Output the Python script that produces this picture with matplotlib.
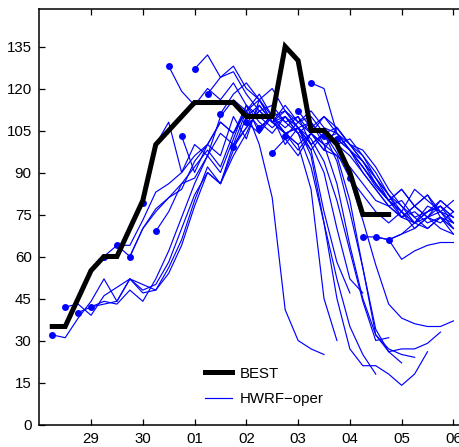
import pandas as pd
import matplotlib
matplotlib.use("Agg")
import matplotlib.pyplot as plt
import matplotlib.dates as mdates
from matplotlib import font_manager
from matplotlib.lines import Line2D

# ---- data (knots, 6-hourly) ----
first_time = "2015-09-28 06:00"
window = ("2015-09-28 00:00", "2015-10-06 06:00")
last_time = "2015-10-06 00:00"

best_kt = [35, 35, 45, 55, 60, 60, 70, 80, 100, 105, 110, 115, 115, 115,
           115, 110, 110, 110, 135, 130, 105, 105, 100, 90, 75, 75, 75]

# one HWRF run per 6-h cycle, starting at first_time
hwrf_kt = [
    [32, 31, 38, 44, 52, 44, 52, 48, 50, 58, 70, 82, 90, 86, 100, 112, 100, 81, 41, 30, 27, 25],
    [42, 43, 39, 46, 49, 52, 47, 48, 56, 66, 80, 92, 86, 98, 110, 114, 108, 104, 100, 84, 45, 30],
    [40, 42, 44, 43, 48, 44, 52, 62, 74, 86, 96, 90, 102, 114, 104, 112, 108, 104, 98, 76, 58, 47],
    [42, 43, 44, 52, 50, 48, 54, 64, 78, 90, 86, 96, 104, 114, 108, 112, 106, 100, 90, 70, 52, 47],
    [60, 64, 60, 70, 77, 81, 86, 92, 98, 92, 104, 114, 108, 104, 110, 104, 92, 72, 52, 35, 25, 18],
    [64, 64, 73, 83, 86, 90, 96, 100, 108, 104, 112, 116, 108, 110, 106, 102, 94, 80, 62, 44, 30, 31],
    [60, 70, 76, 81, 84, 94, 100, 96, 110, 102, 116, 108, 104, 106, 100, 104, 94, 76, 56, 34, 26, 22],
    [79, 100, 108, 90, 100, 96, 110, 116, 112, 106, 110, 104, 100, 104, 98, 96, 80, 56, 32, 27, 25, 24],
    [69, 76, 86, 88, 96, 104, 100, 106, 112, 108, 104, 106, 96, 72, 45, 27, 21, 21, 18, 14, 18, 26],
    [128, 119, 114, 120, 116, 122, 114, 110, 106, 110, 104, 108, 100, 86, 64, 45, 32, 26, 27, 27, 29, 33],
    [103, 90, 100, 108, 104, 112, 118, 110, 106, 110, 100, 104, 97, 88, 73, 57, 43, 38, 36, 35, 35, 37],
    [127, 132, 124, 126, 118, 112, 114, 108, 110, 104, 100, 96, 92, 86, 80, 78, 74, 76, 72, 74, 70],
    [118, 124, 128, 120, 116, 110, 112, 106, 108, 102, 104, 98, 90, 84, 78, 80, 74, 76, 78, 74],
    [111, 118, 122, 116, 120, 112, 108, 110, 104, 106, 100, 96, 88, 82, 76, 72, 76, 80, 76],
    [99, 106, 112, 108, 114, 108, 104, 110, 106, 100, 98, 92, 84, 78, 74, 70, 74, 72],
    [108, 104, 110, 100, 106, 98, 104, 100, 96, 90, 84, 78, 74, 78, 82, 76, 72],
    [106, 110, 104, 98, 104, 100, 102, 98, 92, 86, 80, 76, 72, 74, 70, 68],
    [97, 102, 96, 104, 98, 106, 100, 94, 88, 82, 78, 72, 78, 76, 80],
    [103, 108, 112, 106, 104, 98, 94, 88, 80, 76, 84, 80, 76, 74],
    [112, 106, 110, 104, 100, 94, 86, 80, 84, 78, 74, 76, 70],
    [122, 120, 104, 98, 92, 85, 80, 84, 78, 74, 78, 72],
    [103, 100, 102, 96, 90, 82, 74, 72, 76, 78, 74],
    [102, 98, 92, 86, 80, 74, 78, 82, 74, 68],
    [88, 82, 76, 72, 76, 70, 74, 80, 76],
    [67, 67, 66, 68, 70, 74, 72, 76],
    [67, 66, 68, 72, 70, 74, 70],
    [66, 59, 62, 64, 65, 65],
]

y_ticks = [0, 15, 30, 45, 60, 75, 90, 105, 120, 135]
y_top = 148.4
legend_labels = ["BEST", "HWRF\u2212oper"]

# ---- style ----
names = {f.name for f in font_manager.fontManager.ttflist}
if "Liberation Sans Narrow" in names:
    family, fsize = "Liberation Sans Narrow", 12.5
else:
    family, fsize = "Liberation Sans", 10.8
plt.rcParams["font.family"] = [family, "DejaVu Sans"]
plt.rcParams["font.size"] = fsize

W, H = 460, 447
fig = plt.figure(figsize=(W / 100, H / 100), dpi=100)

x0 = pd.Timestamp(window[0])
x1 = pd.Timestamp(window[1])
px_per_day = 51.76
left_px, top_px, bottom_px = 39.3, 9.0, 424.5
width_px = (x1 - x0) / pd.Timedelta(days=1) * px_per_day
ax = fig.add_axes([left_px / W, (H - bottom_px) / H,
                   width_px / W, (bottom_px - top_px) / H])

step = pd.Timedelta(hours=6)
t_first = pd.Timestamp(first_time)
t_last = pd.Timestamp(last_time)

for i, run in enumerate(hwrf_kt):
    times = pd.date_range(t_first + i * step, periods=len(run), freq="6h")
    keep = times <= t_last
    tt = times[keep]
    vv = [v for v, k in zip(run, keep) if k]
    ax.plot(tt, vv, color="#0000ff", lw=0.85, zorder=2)
    ax.plot(tt[:1], vv[:1], "o", color="#0000ff", ms=5, mec="none", zorder=2)

best_times = pd.date_range(t_first, periods=len(best_kt), freq="6h")
ax.plot(best_times, best_kt, color="black", lw=3.6, zorder=3,
        solid_joinstyle="miter")

ax.set_xlim(x0, x1)
ax.set_ylim(0, y_top)
ax.set_yticks(y_ticks)
ax.set_xticks(pd.date_range("2015-09-29", "2015-10-06", freq="D"))
ax.xaxis.set_major_formatter(mdates.DateFormatter("%d"))

ax.tick_params(direction="in", length=4.5, width=0.9, top=True, right=True,
               labelsize=fsize, pad=5.5)
for side in ("left", "bottom", "top", "right"):
    ax.spines[side].set_linewidth(1.1)

handles = [Line2D([], [], color="black", lw=3.6),
           Line2D([], [], color="#0000ff", lw=0.85)]
ax.legend(handles, legend_labels, loc="center left",
          bbox_to_anchor=(205 / W, 1 - 386.5 / H),
          bbox_transform=fig.transFigure, frameon=False, borderpad=0,
          borderaxespad=0, handlelength=1.8, handletextpad=0.5,
          labelspacing=0.8, fontsize=fsize)

fig.savefig("out.png", dpi=100)
